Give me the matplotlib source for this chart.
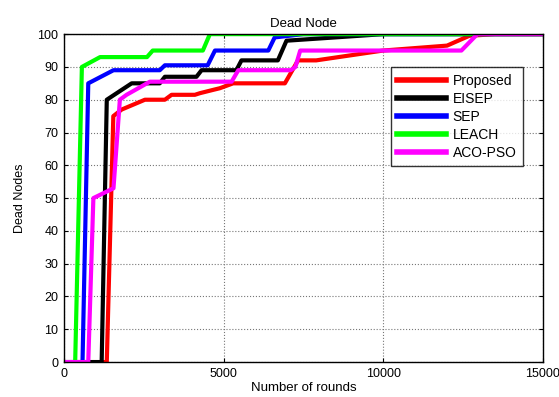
import numpy as np
import matplotlib
matplotlib.use('Agg')
import matplotlib.pyplot as plt

plt.rcParams['font.family'] = ['Liberation Sans', 'DejaVu Sans']

# Кривые числа погибших узлов по раундам
proposed_x = [0, 1340, 1545, 1805, 2535, 3160, 3370, 4100, 4260, 4670, 4880, 5300, 6920, 7330, 7900, 10000, 12000, 12700, 13500, 15000]
proposed_y = [0, 0, 75, 77, 80, 80, 81.5, 81.5, 82, 83, 83.5, 85, 85, 92, 92, 95, 96.5, 99.5, 100, 100]

eisep_x = [0, 1180, 1340, 2120, 3000, 3160, 4150, 4310, 5400, 5560, 6700, 6970, 10000, 15000]
eisep_y = [0, 0, 80, 85, 85, 87, 87, 89, 89, 92, 92, 98, 100, 100]

sep_x = [0, 580, 760, 1550, 3000, 3160, 4500, 4730, 6400, 6600, 7500, 15000]
sep_y = [0, 0, 85, 89, 89, 90.5, 90.5, 95, 95, 99, 100, 100]

leach_x = [0, 350, 560, 1130, 2600, 2780, 4350, 4570, 15000]
leach_y = [0, 0, 90, 93, 93, 95, 95, 100, 100]

aco_x = [0, 760, 920, 1550, 1750, 1960, 2690, 5250, 5460, 7100, 7250, 7400, 12450, 12950, 15000]
aco_y = [0, 0, 50, 53, 80, 81.5, 85.5, 85.5, 89, 89, 90, 95, 95, 100, 100]

fig = plt.figure(figsize=(5.59, 3.97), dpi=100)
ax = fig.add_axes([0.1145, 0.088, 0.8565, 0.826])

lw = 3
ax.plot(proposed_x, proposed_y, color='#ff0000', linewidth=lw, label='Proposed')
ax.plot(eisep_x, eisep_y, color='#000000', linewidth=lw, label='EISEP')
ax.plot(sep_x, sep_y, color='#0000ff', linewidth=lw, label='SEP')
ax.plot(leach_x, leach_y, color='#00ff00', linewidth=lw, label='LEACH')
ax.plot(aco_x, aco_y, color='#ff00ff', linewidth=lw, label='ACO-PSO')

ax.set_xlim(0, 15000)
ax.set_ylim(0, 100)
ax.set_xticks([0, 5000, 10000, 15000])
ax.set_yticks(np.arange(0, 101, 10))
ax.tick_params(direction='in', top=True, right=True, labelsize=9, length=3, pad=4)
ax.grid(True, linestyle=':', color='#777777', linewidth=0.8)
for s in ax.spines.values():
    s.set_linewidth(1.0)

ax.set_title('Dead Node', fontsize=9.5, pad=5)
ax.set_xlabel('Number of rounds', fontsize=9.5, labelpad=2)
ax.set_ylabel('Dead Nodes', fontsize=9, labelpad=8)

leg = ax.legend(loc='upper right', bbox_to_anchor=(0.958, 0.899), fontsize=10,
                frameon=True, fancybox=False, handlelength=3.5, handletextpad=0.5,
                borderpad=0.45, labelspacing=0.3, borderaxespad=0)
leg.get_frame().set_edgecolor('black')
leg.get_frame().set_linewidth(1.0)
for line in leg.get_lines():
    line.set_linewidth(4)

fig.savefig('out.png', dpi=100)
